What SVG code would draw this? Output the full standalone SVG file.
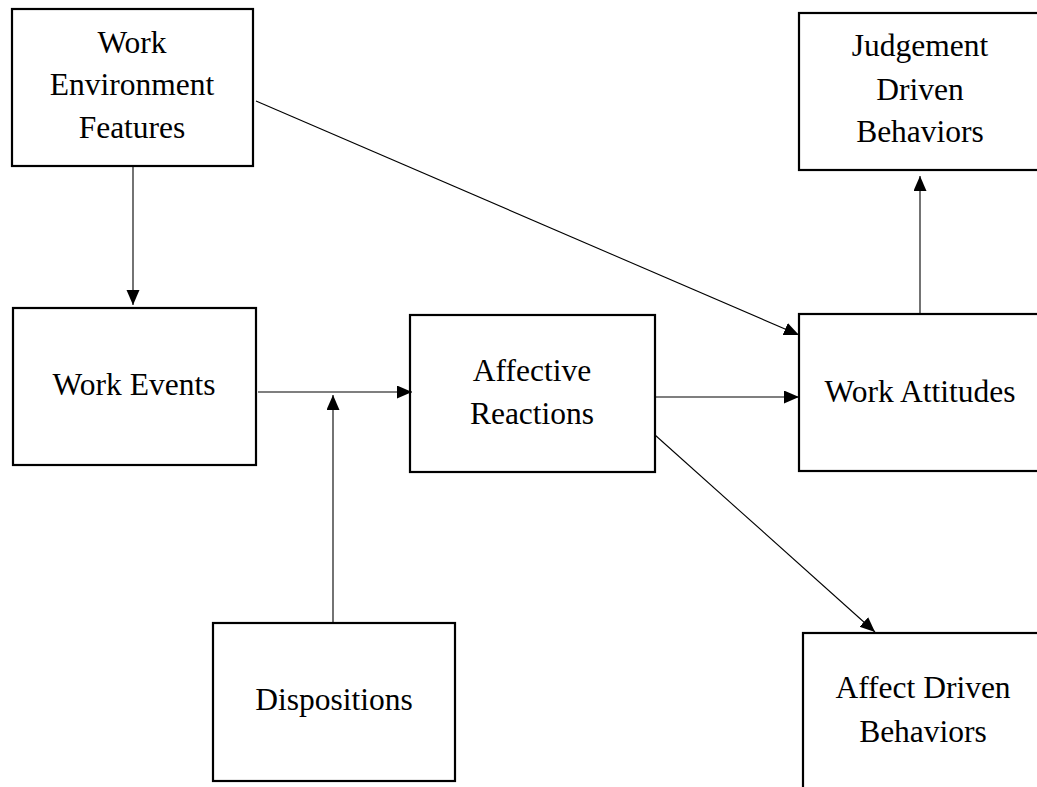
<svg xmlns="http://www.w3.org/2000/svg" width="1037" height="787" viewBox="0 0 1037 787">
<style>
.box{fill:#fff;stroke:#000;stroke-width:2.2}
.t{font-family:"Liberation Serif","Times New Roman",serif;font-size:31.5px;fill:#000;text-anchor:middle}
.c{stroke:#000;stroke-width:1.1;fill:none;marker-end:url(#ah)}
</style>
<defs>
<marker id="ah" markerUnits="userSpaceOnUse" markerWidth="16" markerHeight="14" refX="15" refY="6.5" orient="auto">
<path d="M0,0 L15,6.5 L0,13 z" fill="#000"/>
</marker>
</defs>
<rect width="1037" height="787" fill="#fff"/>
<g id="n-env">
<rect class="box" x="12" y="9" width="241" height="157"/>
<text class="t" x="132" y="53">Work</text>
<text class="t" x="132" y="95">Environment</text>
<text class="t" x="132" y="138">Features</text>
</g>
<g id="n-judgement">
<rect class="box" x="799" y="13" width="260" height="157"/>
<text class="t" x="920" y="56">Judgement</text>
<text class="t" x="920" y="100">Driven</text>
<text class="t" x="920" y="142">Behaviors</text>
</g>
<g id="n-events">
<rect class="box" x="13" y="308" width="243" height="157"/>
<text class="t" x="134" y="395">Work Events</text>
</g>
<g id="n-affective">
<rect class="box" x="410" y="315" width="245" height="157"/>
<text class="t" x="532" y="381">Affective</text>
<text class="t" x="532" y="424">Reactions</text>
</g>
<g id="n-attitudes">
<rect class="box" x="799" y="314" width="260" height="157"/>
<text class="t" x="920" y="402">Work Attitudes</text>
</g>
<g id="n-dispositions">
<rect class="box" x="213" y="623" width="242" height="158"/>
<text class="t" x="334" y="710">Dispositions</text>
</g>
<g id="n-affectdriven">
<rect class="box" x="803" y="633" width="260" height="170"/>
<text class="t" x="923" y="698">Affect Driven</text>
<text class="t" x="923" y="742">Behaviors</text>
</g>
<g id="connectors">
<line class="c" x1="133" y1="167" x2="133" y2="305"/>
<line class="c" x1="256" y1="101" x2="799" y2="335"/>
<line class="c" x1="258" y1="392" x2="412" y2="392"/>
<line class="c" x1="333" y1="622" x2="333" y2="395"/>
<line class="c" x1="656" y1="397" x2="799" y2="397"/>
<line class="c" x1="920" y1="313" x2="920" y2="176"/>
<line class="c" x1="655" y1="435" x2="875" y2="632"/>
</g>
</svg>
